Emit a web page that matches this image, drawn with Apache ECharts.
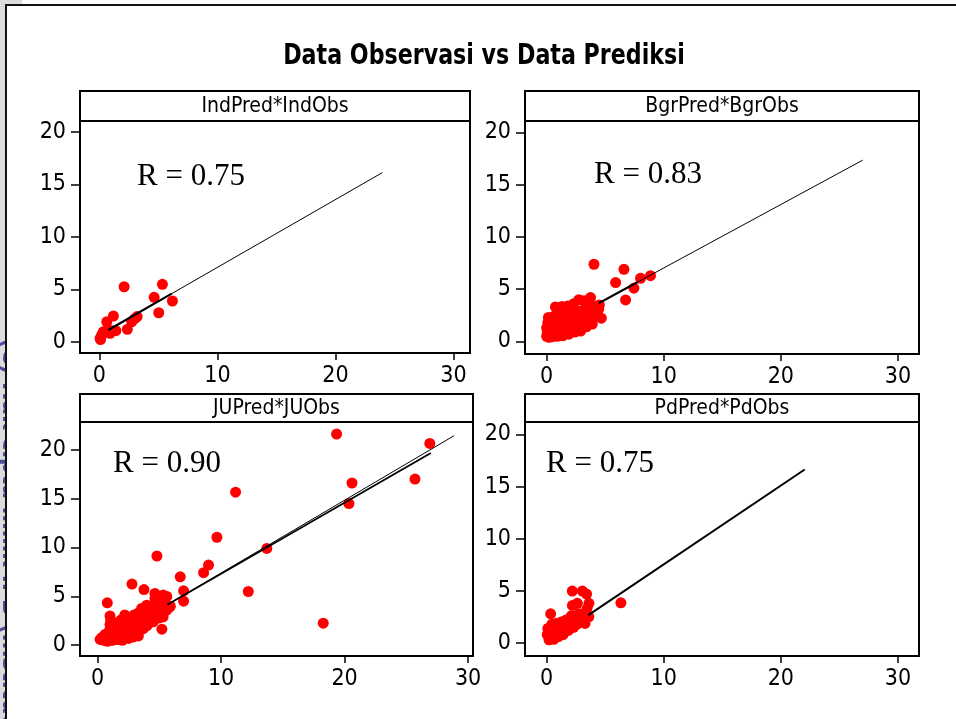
<!DOCTYPE html>
<html><head><meta charset="utf-8">
<script src="https://cdn.jsdelivr.net/npm/echarts@6/dist/echarts.min.js"></script>
<style>html,body{margin:0;padding:0;background:#fff}#c{width:956px;height:719px}</style>
</head><body><div id="c"></div>
<script>
const chartTitle = 'Data Observasi vs Data Prediksi';
const panelTitles = ['IndPred*IndObs', 'BgrPred*BgrObs', 'JUPred*JUObs', 'PdPred*PdObs'];
const rLabels = ['R = 0.75', 'R = 0.83', 'R = 0.90', 'R = 0.75'];
const xTicks = [0, 10, 20, 30];
const yTicks = [0, 5, 10, 15, 20];

// Panel 1: Ind
const indObs  = [0.06, 0.1, 0.2, 0.34, 0.45, 0.63, 0.76, 0.9, 1.05, 1.19, 1.4, 2.1, 2.37, 2.74, 3.0, 3.2, 4.64, 5.03, 5.34, 6.19];
const indPred = [0.32, 0.2, 0.64, 0.95, 0.85, 1.9, 1.1, 0.8, 1.05, 2.45, 1.05, 5.24, 1.18, 1.9, 2.2, 2.4, 4.23, 2.76, 5.47, 3.88];
const indFitObs = [0.76, 6.13], indFitPred = [1.11, 4.58];
const indExtObs = [0.76, 23.98], indExtPred = [1.11, 16.13];

// Panel 2: Bgr
const bgrObs  = [0.0, 0.05, 0.0, 0.1, 0.15, 0.2, 0.45, 0.5, 0.55, 0.5, 0.6, 0.75, 0.9, 1.0, 1.05, 0.95, 1.1, 1.3,
  1.4, 1.5, 1.45, 1.55, 1.5, 1.8, 1.9, 2.0, 2.05, 1.95, 2.1, 2.3, 2.4, 2.5, 2.55, 2.45, 2.6, 2.75,
  2.9, 3.0, 3.05, 2.95, 3.1, 3.2, 3.4, 3.5, 3.55, 3.45, 3.6, 3.9, 3.95, 3.85, 4.0, 3.75, 4.3, 4.45, 4.5, 4.67,
  4.04, 6.6, 5.89, 6.74, 7.45, 8.02, 8.87];
const bgrPred = [0.5, 0.9, 1.3, 1.8, 2.3, 0.4, 0.45, 0.9, 1.4, 1.9, 2.4, 3.3, 0.5, 1.0, 1.5, 2.0, 2.5, 3.35,
  0.55, 1.1, 1.6, 2.1, 2.6, 3.4, 0.7, 1.2, 1.7, 2.3, 2.8, 3.6, 0.9, 1.4, 1.9, 2.4, 2.9, 4.0,
  1.0, 1.5, 2.0, 2.5, 3.0, 3.9, 1.4, 1.9, 2.5, 3.0, 3.5, 1.66, 2.3, 2.9, 3.4, 4.2, 2.6, 3.1, 3.5, 2.23,
  7.39, 6.9, 5.64, 3.98, 5.1, 6.05, 6.3];
const bgrFitObs = [4.46, 7.74], bgrFitPred = [3.67, 5.66];
const bgrExtObs = [4.46, 26.99], bgrExtPred = [3.67, 17.35];

// Panel 3: JU
const juObs  = [0.2, 0.35, 0.5, 0.6, 0.8, 0.9, 0.95, 1.0, 1.05, 1.2, 1.3, 1.35, 1.5, 1.6, 1.7, 1.8, 1.9, 2.0, 2.1, 2.2,
  2.2, 2.3, 2.45, 2.5, 2.6, 2.7, 2.8, 2.9, 2.95, 3.0, 3.1, 3.2, 3.3, 3.3, 3.4, 3.5, 3.56, 3.6, 3.7, 3.8,
  3.9, 3.97, 4.0, 4.1, 4.2, 4.3, 4.4, 4.5, 4.5, 4.64, 4.7, 4.8, 4.9, 5.0, 5.1, 5.2, 5.3, 5.4, 5.45, 5.6, 5.85,
  0.78, 1.0, 2.78, 3.75, 4.8, 5.2, 6.69, 6.96, 6.96, 4.64, 5.31, 5.6, 5.88, 8.58, 8.98, 9.66, 11.17, 12.2, 13.7,
  18.27, 19.35, 20.35, 20.6, 25.7, 26.9];
const juPred = [0.6, 0.8, 0.5, 1.1, 0.4, 0.9, 1.5, 2.1, 2.6, 0.5, 1.1, 1.7, 2.2, 0.6, 1.3, 1.9, 2.6, 0.5, 1.1, 1.6,
  3.1, 2.2, 2.7, 0.7, 1.3, 1.9, 2.4, 0.85, 3.1, 1.5, 2.1, 2.7, 0.95, 3.3, 1.6, 2.3, 3.76, 2.9, 1.7, 2.5,
  3.3, 4.1, 2.0, 2.9, 3.6, 2.5, 3.2, 2.4, 4.0, 4.79, 3.0, 3.7, 4.3, 2.8, 3.4, 4.0, 2.9, 4.5, 4.79, 3.6, 3.93,
  4.34, 3.0, 6.26, 5.7, 9.13, 1.64, 7.0, 5.57, 4.51, 5.3, 5.13, 5.0, 4.0, 7.42, 8.2, 11.05, 15.66, 5.5, 9.9,
  2.26, 21.6, 14.5, 16.6, 17.0, 20.65];
const juFitObs = [5.67, 26.99], juFitPred = [4.17, 19.66];
const juExtObs = [5.67, 28.87], juExtPred = [4.17, 21.44];

// Panel 4: Pd
const pdObs  = [0.05, 0.1, 0.2, 0.35, 0.4, 0.45, 0.34, 0.6, 0.7, 0.8, 0.85, 1.0, 1.15, 1.2, 1.25, 1.4, 1.55, 1.6, 1.65,
  1.85, 2.0, 2.05, 2.1, 2.3, 2.35, 2.4, 2.6, 2.7, 2.75, 2.62, 2.2, 2.9, 3.05, 3.27, 3.3, 3.6, 3.61, 3.45,
  2.19, 3.05, 3.41, 6.34];
const pdPred = [0.8, 1.4, 0.3, 0.7, 1.2, 1.8, 2.8, 0.35, 0.8, 1.3, 1.9, 0.6, 1.1, 1.6, 2.0, 0.8, 1.3, 1.8, 2.2,
  1.2, 1.6, 2.1, 2.6, 1.5, 2.0, 2.5, 1.8, 2.3, 2.8, 3.8, 3.6, 2.1, 2.6, 1.87, 2.9, 2.5, 3.8, 3.3,
  4.98, 4.98, 4.69, 3.85];
const pdFitObs = [3.56, 22.04], pdFitPred = [2.67, 16.64];

const FF = '"DejaVu Sans Condensed", "DejaVu Sans", sans-serif';
const zip = (a, b) => a.map((v, i) => [v, b[i]]);

const grids = [
  {left: 80, top: 121, width: 390, height: 232},
  {left: 525, top: 121, width: 394, height: 233},
  {left: 80, top: 422, width: 393, height: 234},
  {left: 525, top: 422, width: 394, height: 234}
];
const xRanges = [[-1.64, 31.4], [-1.85, 31.8], [-1.43, 30.4], [-1.85, 31.8]];
const yRanges = [[-1.08, 21.05], [-1.2, 21.1], [-1.1, 22.84], [-1.25, 21.2]];
const headerTops = [91, 91, 394, 394];
const rPos = [[137, 177], [594, 175], [113, 464], [546, 464]];

const scatterSets = [zip(indObs, indPred), zip(bgrObs, bgrPred), zip(juObs, juPred), zip(pdObs, pdPred)];
const lineSets = [
  [[zip(indExtObs, indExtPred), 1], [zip(indFitObs, indFitPred), 2.2]],
  [[zip(bgrExtObs, bgrExtPred), 1], [zip(bgrFitObs, bgrFitPred), 2.2]],
  [[zip(juExtObs, juExtPred), 1], [zip(juFitObs, juFitPred), 1.8]],
  [[zip(pdFitObs, pdFitPred), 2]]
];

const xAxis = [], yAxis = [], series = [], graphic = [];
grids.forEach((g, i) => {
  xAxis.push({type: 'value', gridIndex: i, min: xRanges[i][0], max: xRanges[i][1],
    axisLine: {show: false, onZero: false},
    axisTick: {show: true, length: 7, customValues: xTicks, lineStyle: {color: '#000', width: 1.5}},
    axisLabel: {customValues: xTicks, margin: 12, fontSize: 23, fontFamily: FF, color: '#000'},
    splitLine: {show: false}});
  yAxis.push({type: 'value', gridIndex: i, min: yRanges[i][0], max: yRanges[i][1],
    axisLine: {show: false, onZero: false},
    axisTick: {show: true, length: 9, customValues: yTicks, lineStyle: {color: '#000', width: 1.5}},
    axisLabel: {customValues: yTicks, margin: 14, fontSize: 23, fontFamily: FF, color: '#000'},
    splitLine: {show: false}});
  series.push({type: 'scatter', xAxisIndex: i, yAxisIndex: i, data: scatterSets[i],
    symbol: 'circle', symbolSize: 11, itemStyle: {color: '#ff0000', opacity: 1}, z: 2, silent: true});
  lineSets[i].forEach(([d, w]) => {
    series.push({type: 'line', xAxisIndex: i, yAxisIndex: i, data: d, showSymbol: false, symbol: 'none',
      lineStyle: {color: '#000', width: w}, z: 3, silent: true});
  });
  graphic.push({type: 'rect', shape: {x: g.left, y: headerTops[i], width: g.width, height: g.top - headerTops[i]},
    style: {fill: '#fff', stroke: '#000', lineWidth: 2}, z: 5});
  graphic.push({type: 'text', x: g.left + g.width / 2, y: (headerTops[i] + g.top) / 2 + 1,
    style: {text: panelTitles[i], font: '21px ' + FF, fill: '#000', textAlign: 'center', textVerticalAlign: 'middle'}, z: 6});
  graphic.push({type: 'text', x: rPos[i][0], y: rPos[i][1],
    style: {text: rLabels[i], font: '31px "Liberation Serif", "Times New Roman", serif', fill: '#000', textAlign: 'left', textVerticalAlign: 'middle'}, z: 6});
});

// page decorations
graphic.push({type: 'rect', shape: {x: 0, y: 0, width: 6, height: 719}, style: {fill: '#dcdcdc'}, z: -10});
graphic.push({type: 'rect', shape: {x: 0, y: 0, width: 22, height: 4}, style: {fill: '#dcdcdc'}, z: -10});
graphic.push({type: 'text', x: -2, y: 338, rotation: -Math.PI / 2,
  style: {text: '(C) Hak cipta milik IPB (Institut Pertanian Bogor)', font: 'bold 22px "DejaVu Sans", sans-serif',
    fill: '#4a4a9c', textAlign: 'left', textVerticalAlign: 'bottom'}, z: -9});
graphic.push({type: 'rect', shape: {x: 7, y: 6, width: 949, height: 713}, style: {fill: '#fff'}, z: -8});
graphic.push({type: 'line', shape: {x1: 5, y1: 5, x2: 956, y2: 5}, style: {stroke: '#111', lineWidth: 2}, z: 10});
graphic.push({type: 'line', shape: {x1: 6, y1: 4, x2: 6, y2: 719}, style: {stroke: '#111', lineWidth: 2}, z: 10});
graphic.push({type: 'text', x: 484, y: 57, scaleX: 0.88,
  style: {text: chartTitle, font: 'bold 28px ' + FF, fill: '#000', textAlign: 'center', textVerticalAlign: 'middle'}, z: 6});

const chart = echarts.init(document.getElementById('c'), null, {renderer: 'canvas'});
chart.setOption({
  backgroundColor: '#fff',
  animation: false,
  grid: grids.map(g => Object.assign({show: true, borderColor: '#000', borderWidth: 2, backgroundColor: 'transparent'}, g)),
  xAxis, yAxis, series, graphic
});
</script></body></html>
